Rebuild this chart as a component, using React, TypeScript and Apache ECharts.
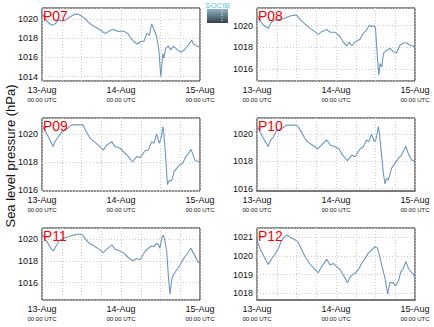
import React, { useEffect, useRef } from "react";
import * as echarts from "echarts";

const stationNames = ["P07", "P08", "P09", "P10", "P11", "P12"];
const dateLabels = ["13-Aug", "14-Aug", "15-Aug"];
const timeLabel = "00:00 UTC";
const yAxisTitle = "Sea level pressure (hPa)";

const p07: [number, number][] = [
  [0, 1020.6], [1, 1020.0], [2, 1019.6], [3, 1019.35], [4, 1019.5], [5, 1019.9], [6, 1019.8],
  [7, 1019.85], [8, 1020.1], [9, 1020.3], [10, 1020.5], [11, 1020.5], [12, 1020.3], [13, 1020.05],
  [14, 1019.7], [15, 1019.4], [16, 1019.2], [17, 1019.0], [18, 1018.8], [19, 1018.5], [20, 1018.65],
  [21, 1018.85], [22, 1018.9], [23, 1018.7], [24, 1018.75], [25, 1018.7], [26, 1018.5], [27, 1018.0],
  [28, 1017.6], [29, 1017.4], [30, 1017.65], [31, 1017.7], [31.8, 1018.5], [32.6, 1018.3], [33.3, 1019.5],
  [34, 1018.9], [34.8, 1018.2], [35.5, 1016.8], [36.1, 1014.0], [36.7, 1016.4], [37, 1015.9],
  [37.6, 1016.95], [38.4, 1017.2], [39, 1016.8], [40, 1017.15], [41.4, 1016.7], [42.4, 1016.55],
  [43.4, 1016.85], [44.5, 1017.3], [45.5, 1017.8], [46, 1017.4], [47, 1017.2], [48, 1017.05],
];

const p08: [number, number][] = [
  [0, 1021.0], [0.9, 1020.5], [1.9, 1020.06], [2.9, 1019.85], [3.4, 1019.75], [4.3, 1020.3], [5.3, 1020.5],
  [7, 1020.6], [8.5, 1020.7], [10, 1020.9], [12, 1021.0], [13, 1020.6], [14.6, 1020.15], [16.1, 1019.75],
  [17.6, 1019.45], [18.6, 1019.2], [19.6, 1019.45], [21.2, 1019.65], [22.2, 1019.4], [23.7, 1019.4],
  [25.2, 1019.0], [26.2, 1018.5], [27.2, 1018.1], [28, 1018.5], [28.8, 1018.15], [29.8, 1018.5],
  [31.3, 1018.75], [32.3, 1019.3], [33.3, 1019.6], [34.1, 1020.05], [34.8, 1019.9], [35.6, 1020.0],
  [36, 1019.75], [36.5, 1017.45], [37, 1015.45], [37.4, 1016.5], [37.9, 1016.2], [38.4, 1017.45],
  [39.4, 1017.75], [40.4, 1017.9], [41.4, 1017.6], [42.4, 1017.5], [43.4, 1018.2], [44.5, 1018.4],
  [45.5, 1018.4], [46.5, 1018.2], [47.5, 1018.15], [48, 1017.85],
];

const p09: [number, number][] = [
  [0, 1020.65], [0.9, 1020.25], [1.9, 1019.8], [2.9, 1019.33], [3.4, 1019.1], [3.9, 1019.45], [5, 1019.8],
  [6, 1020.15], [7.5, 1020.35], [9, 1020.65], [11, 1020.65], [12.4, 1020.65], [13.4, 1020.2], [14.6, 1019.7],
  [16.1, 1019.4], [17.6, 1019.1], [18.6, 1018.85], [19.6, 1019.2], [21.2, 1019.45], [22.2, 1019.1],
  [23.7, 1018.98], [24.7, 1018.75], [26.2, 1018.4], [27.5, 1018.0], [28.8, 1018.4], [29.8, 1018.3],
  [31.3, 1018.8], [32.3, 1018.85], [33.3, 1019.45], [34, 1019.33], [34.8, 1020.0], [35.6, 1019.33],
  [36.2, 1019.7], [36.7, 1020.55], [37, 1020.05], [37.5, 1018.6], [38.1, 1016.4], [38.7, 1016.7],
  [39.4, 1016.65], [40.1, 1017.3], [40.9, 1017.55], [41.9, 1017.8], [42.7, 1017.9], [43.7, 1018.4],
  [44.5, 1018.6], [45.2, 1018.9], [45.8, 1018.6], [46.5, 1018.1], [48, 1018.0],
];

const p10: [number, number][] = [
  [0, 1020.65], [0.9, 1020.17], [1.9, 1019.7], [3.4, 1019.07], [3.9, 1019.45], [5, 1019.8], [6, 1020.25],
  [7.5, 1020.4], [9, 1020.65], [11.5, 1020.65], [12.4, 1020.58], [13.6, 1020.1], [14.8, 1019.56],
  [16.1, 1019.3], [17.6, 1019.07], [18.4, 1018.9], [19.6, 1019.2], [21.2, 1019.56], [22.2, 1019.2],
  [23.7, 1019.07], [24.9, 1018.9], [26.2, 1018.4], [27.5, 1018.05], [28.8, 1018.46], [29.8, 1018.34],
  [31.3, 1018.9], [32.3, 1019.07], [33.3, 1019.56], [34, 1019.44], [34.8, 1020.0], [35.6, 1019.44],
  [36.1, 1019.56], [36.9, 1020.55], [37.3, 1019.8], [37.7, 1018.8], [38.4, 1017.1], [38.9, 1016.35],
  [39.4, 1016.75], [39.9, 1016.63], [40.9, 1017.5], [41.9, 1017.85], [42.9, 1018.2], [43.9, 1018.46],
  [45.2, 1019.1], [46, 1018.54], [47, 1018.1], [48, 1018.0],
];

const p11: [number, number][] = [
  [0, 1020.45], [0.9, 1020.05], [1.9, 1019.55], [2.9, 1019.05], [3.4, 1018.9], [4.3, 1019.35], [5.3, 1019.85],
  [6.5, 1020.05], [8, 1020.2], [9.5, 1020.35], [11.5, 1020.45], [12.4, 1020.35], [13.4, 1019.9], [14.6, 1019.55],
  [16.1, 1019.3], [17.6, 1019.0], [18.6, 1018.75], [19.6, 1019.05], [21.2, 1019.45], [22.2, 1019.05],
  [23.7, 1018.9], [24.9, 1018.7], [26.2, 1018.3], [27.5, 1018.0], [28.8, 1018.2], [29.8, 1018.1],
  [31.3, 1018.85], [32.3, 1019.15], [33.3, 1019.35], [34, 1019.3], [34.8, 1019.6], [35.4, 1019.45],
  [35.8, 1019.15], [36.5, 1020.2], [36.9, 1020.35], [37.3, 1019.9], [37.9, 1018.85], [38.4, 1016.55],
  [38.9, 1014.95], [39.4, 1016.25], [39.9, 1016.7], [40.9, 1017.15], [41.9, 1017.6], [42.9, 1018.15],
  [43.9, 1018.55], [45.2, 1019.15], [46, 1018.7], [47, 1018.15], [47.5, 1017.8], [48, 1018.0],
];

const p12: [number, number][] = [
  [0, 1020.86], [0.9, 1020.4], [1.9, 1020.05], [2.9, 1019.7], [3.4, 1019.55], [4.3, 1019.8], [5.3, 1020.05],
  [6.5, 1020.4], [7.3, 1020.77], [8, 1020.95], [8.7, 1021.07], [9.3, 1021.12], [10, 1021.0], [11.3, 1020.9],
  [12.4, 1020.77], [13.4, 1020.4], [14.6, 1019.96], [16.1, 1019.57], [17.6, 1019.28], [18.6, 1019.1],
  [19.6, 1019.43], [21.2, 1019.82], [22.2, 1019.52], [23.2, 1019.6], [24.2, 1019.43], [25.2, 1019.28],
  [26.2, 1018.98], [27.5, 1018.57], [28.5, 1018.93], [29.8, 1019.07], [30.8, 1019.28], [31.8, 1019.6],
  [32.8, 1019.87], [33.8, 1020.14], [34.8, 1020.32], [35.8, 1020.5], [36.6, 1020.41], [37.3, 1019.96],
  [38, 1019.43], [38.9, 1018.8], [39.7, 1017.96], [40.4, 1018.57], [41.4, 1018.57], [42.1, 1018.4],
  [42.9, 1018.63], [43.7, 1019.16], [44.5, 1019.34], [45.2, 1019.7], [46, 1019.34], [47, 1019.1],
  [47.5, 1019.04], [48, 1018.75],
];

const stationData = [p07, p08, p09, p10, p11, p12];
const yMins = [1013.55, 1014.9, 1015.93, 1015.83, 1014.41, 1017.64];
const yMaxs = [1021.14, 1021.63, 1021.14, 1021.17, 1021.0, 1021.5];
const ySteps = [2, 2, 2, 2, 2, 1];

const FONT = "'Liberation Sans', Arial, Helvetica, sans-serif";
const LINE_COLOR = "#6b98c2";
const GRID_DOT = "#cccccc";

export default function App() {
  const ref = useRef<HTMLDivElement>(null);

  useEffect(() => {
    if (!ref.current) return;
    const chart = echarts.init(ref.current, undefined, { renderer: "svg" });

    const lefts = [42, 257];
    const tops = [8, 118, 228];
    const width = 158;

    const grids: any[] = [];
    const xAxes: any[] = [];
    const yAxes: any[] = [];
    const series: any[] = [];
    const graphics: any[] = [];

    stationNames.forEach((name, i) => {
      const col = i % 2;
      const row = Math.floor(i / 2);
      const left = lefts[col];
      const top = tops[row];
      const h = row === 2 ? 72 : 73;
      grids.push({
        left,
        top,
        width,
        height: h,
        show: true,
        borderColor: "#222",
        borderWidth: 1,
        backgroundColor: "#fff",
        containLabel: false,
      });
      const grayBottom = name === "P10" || name === "P12";
      xAxes.push({
        type: "value",
        gridIndex: i,
        min: 0,
        max: 48,
        interval: 6,
        axisLine: grayBottom
          ? { show: true, onZero: false, lineStyle: { color: "#777", width: 2 } }
          : { show: false },
        axisTick: { show: false },
        splitLine: { show: true, lineStyle: { color: GRID_DOT, type: [1, 2], width: 1 } },
        axisLabel: {
          margin: 3,
          fontFamily: FONT,
          color: "#111",
          formatter: (v: number) =>
            v % 24 === 0 ? `{d|${dateLabels[v / 24]}}\n{u|${timeLabel}}` : "",
          rich: {
            d: { fontSize: 9, lineHeight: 11, fontFamily: FONT, color: "#111" },
            u: { fontSize: 6, lineHeight: 9, fontFamily: FONT, color: "#111" },
          },
        },
      });
      const step = ySteps[i];
      yAxes.push({
        type: "value",
        gridIndex: i,
        min: yMins[i],
        max: yMaxs[i],
        splitNumber: step === 1 ? 4 : 3,
        minInterval: step,
        maxInterval: step,
        axisLine: { show: false },
        axisTick: { show: false },
        splitLine: { show: true, lineStyle: { color: GRID_DOT, type: [1, 2], width: 1 } },
        axisLabel: {
          margin: 4,
          fontSize: 9,
          fontFamily: FONT,
          color: "#111",
          showMinLabel: false,
          showMaxLabel: false,
          formatter: (v: number) =>
            Math.abs(v - Math.round(v / step) * step) < 1e-6 ? String(Math.round(v)) : "",
        },
      });
      series.push({
        type: "line",
        xAxisIndex: i,
        yAxisIndex: i,
        data: stationData[i],
        showSymbol: false,
        symbol: "none",
        lineStyle: { color: LINE_COLOR, width: 1.1 },
        z: 3,
      });
      graphics.push({
        type: "text",
        x: left + 1,
        y: top + 1,
        z: 10,
        style: { text: name, fill: "#ff0000", fontSize: 14, fontFamily: FONT },
      });
    });

    graphics.push({
      type: "text",
      x: 10,
      y: 156,
      rotation: Math.PI / 2,
      style: {
        text: yAxisTitle,
        fill: "#111",
        fontSize: 13,
        fontFamily: FONT,
        align: "center",
        verticalAlign: "middle",
      },
    });
    // logo
    graphics.push({
      type: "rect",
      shape: { x: 207, y: 9, width: 21, height: 14 },
      style: {
        fill: new echarts.graphic.LinearGradient(0, 0, 0, 1, [
          { offset: 0, color: "#8fb3bf" },
          { offset: 1, color: "#2f3f4c" },
        ]),
      },
    });
    graphics.push({
      type: "line",
      shape: { x1: 222, y1: 10, x2: 222, y2: 22 },
      style: { stroke: "#fff", lineWidth: 1, lineDash: [1, 1.5] },
    });
    graphics.push({
      type: "text",
      x: 217.5,
      y: 5,
      style: {
        text: "SOCIB",
        fill: "#55c6d6",
        fontSize: 8,
        fontFamily: FONT,
        align: "center",
        verticalAlign: "middle",
      },
    });

    chart.setOption({
      animation: false,
      backgroundColor: "#fff",
      grid: grids,
      xAxis: xAxes,
      yAxis: yAxes,
      series,
      graphic: graphics,
    });

    return () => chart.dispose();
  }, []);

  return (
    <div
      ref={ref}
      style={{ position: "fixed", left: 0, top: 0, width: 434, height: 327, background: "#fff" }}
    />
  );
}
